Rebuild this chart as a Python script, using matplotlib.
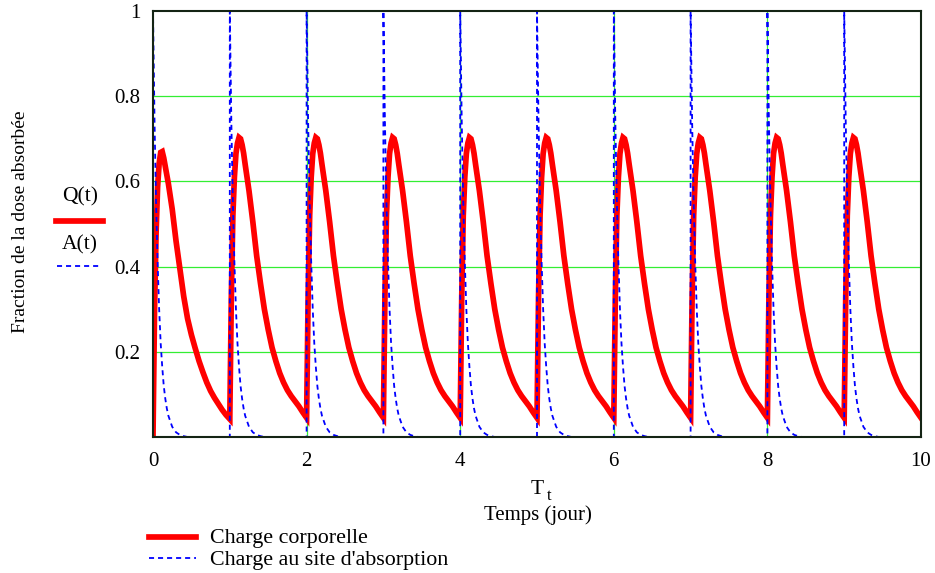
import numpy as np
import matplotlib
matplotlib.use("Agg")
import matplotlib.pyplot as plt
from matplotlib.lines import Line2D

plt.rcParams['font.family'] = ['Liberation Serif', 'DejaVu Serif']

# ---- data ----
days = list(range(10))                       # dose given at the start of each day
cycle_t = [0.00, 0.02, 0.04, 0.06, 0.08, 0.10, 0.12, 0.14, 0.16, 0.18, 0.20,
           0.25, 0.30, 0.35, 0.40, 0.45, 0.50, 0.55, 0.60, 0.65, 0.70,
           0.75, 0.80, 0.85, 0.90, 0.95, 1.00]
# body load Q(t), first day
q_first = [0.000, 0.296, 0.477, 0.587, 0.642, 0.668, 0.670, 0.655, 0.635, 0.615, 0.595,
           0.535, 0.460, 0.395, 0.330, 0.278, 0.240, 0.208, 0.178, 0.152, 0.128,
           0.108, 0.092, 0.078, 0.064, 0.052, 0.042]
# body load Q(t), following days
q_steady = [0.045, 0.330, 0.520, 0.610, 0.665, 0.690, 0.703, 0.700, 0.686, 0.666, 0.640,
            0.578, 0.505, 0.425, 0.360, 0.300, 0.252, 0.210, 0.178, 0.150, 0.128,
            0.110, 0.096, 0.084, 0.072, 0.058, 0.045]
# load at absorption site A(t), each day
a_cycle = [1.000, 0.740, 0.550, 0.410, 0.300, 0.220, 0.165, 0.120, 0.090, 0.067, 0.050,
           0.024, 0.011, 0.005, 0.002, 0.000, 0.000, 0.000, 0.000, 0.000, 0.000,
           0.000, 0.000, 0.000, 0.000, 0.000, 0.000]

x_ticks = [0, 2, 4, 6, 8, 10]
y_ticks = [0.2, 0.4, 0.6, 0.8, 1.0]
y_tick_labels = ['0.2', '0.4', '0.6', '0.8', '1']

# ---- assemble series ----
tq, q, ta, a = [], [], [0.0], [0.0]
for d in days:
    qc = q_first if d == 0 else q_steady
    for t, qv, av in zip(cycle_t, qc, a_cycle):
        tq.append(d + t); q.append(qv)
        ta.append(d + t); a.append(av)

RED = '#ff0000'
BLUE = '#0000ff'
RED_LW = 4.1
BLUE_LW = 1.3
BLUE_LS = (0, (2.8, 2.2))

fig = plt.figure(figsize=(9.35, 5.73), dpi=100)
ax = fig.add_axes([153/935, 1-437/573, (921-153)/935, (437-11)/573])

grid_c = '#33ee33'
for yv in [0.2, 0.4, 0.6, 0.8]:
    ax.axhline(yv, color=grid_c, lw=0.9, zorder=1)
for xv in [2, 4, 6, 8]:
    ax.axvline(xv, color=grid_c, lw=0.9, zorder=1)

ax.plot(tq, q, color=RED, lw=RED_LW, zorder=3, solid_joinstyle='miter')
ax.plot(ta, a, color=BLUE, lw=BLUE_LW, ls=BLUE_LS, zorder=4)

ax.set_xlim(0, 10)
ax.set_ylim(0, 1)
ax.set_xticks(x_ticks)
ax.set_xticklabels([str(v) for v in x_ticks])
ax.set_yticks(y_ticks)
ax.set_yticklabels(y_tick_labels)
ax.tick_params(axis='x', length=0, labelsize=15, pad=11)
ax.tick_params(axis='y', length=0, labelsize=15, pad=9)
for s in ax.spines.values():
    s.set_color('#142414')
    s.set_linewidth(1.5)
    s.set_zorder(5)

# y label and mini legend on left
fig.text(20.5/935, 1-222/573, 'Fraction de la dose absorbée', rotation=90,
         ha='center', va='center', fontsize=14)
fig.text(80/935, 1-197/573, 'Q(t)', ha='center', va='center', fontsize=15.5)
fig.add_artist(Line2D([56/935, 103/935], [1-221/573, 1-221/573], color=RED, lw=RED_LW))
fig.text(80/935, 1-245/573, 'A(t)', ha='center', va='center', fontsize=15.5)
fig.add_artist(Line2D([57/935, 101/935], [1-266/573, 1-266/573], color=BLUE,
                      lw=BLUE_LW, ls=BLUE_LS))

# x label
fig.text(537/935, 1-489/573, 'T', ha='center', va='center', fontsize=15.5)
fig.text(549/935, 1-496/573, 't', ha='center', va='center', fontsize=12)
fig.text(538/935, 1-515/573, 'Temps (jour)', ha='center', va='center', fontsize=15)

# bottom legend
fig.add_artist(Line2D([149/935, 196/935], [1-537/573, 1-537/573], color=RED, lw=RED_LW))
fig.text(210/935, 1-538/573, 'Charge corporelle', ha='left', va='center', fontsize=15.8)
fig.add_artist(Line2D([149/935, 196/935], [1-558/573, 1-558/573], color=BLUE,
                      lw=BLUE_LW, ls=BLUE_LS))
fig.text(210/935, 1-561/573, "Charge au site d'absorption", ha='left', va='center', fontsize=15.8)

fig.savefig('out.png', dpi=100)
